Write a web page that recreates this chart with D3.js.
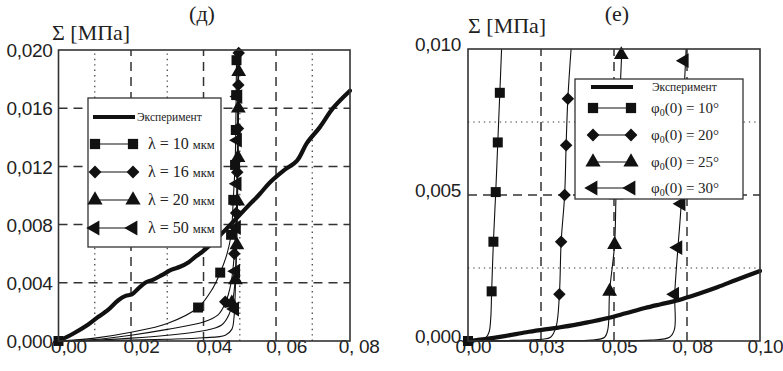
<!DOCTYPE html>
<html><head><meta charset="utf-8">
<script src="https://cdn.jsdelivr.net/npm/d3@7"></script>
<style>body{margin:0;background:#fff}svg{display:block}</style>
</head><body>
<svg id="c" width="783" height="371"></svg>
<script>
// ---------- Data: panel (д) ----------
const leftXTicks = [0, 0.02, 0.04, 0.06, 0.08];
const leftXLabels = ["0,00", "0,02", "0,04", "0, 06", "0, 08"];
const leftYTicks = [0, 0.004, 0.008, 0.012, 0.016, 0.02];
const leftYLabels = ["0,000", "0,004", "0,008", "0,012", "0,016", "0,020"];
const leftXDashed = [0.02, 0.04, 0.06];
const leftXDotted = [0.01, 0.03, 0.05, 0.07];
const leftYDashed = [0.004, 0.008, 0.012, 0.016];
const leftYDotted = [];
const leftSeriesNames = ["λ = 10", "λ = 16", "λ = 20", "λ = 50"];
const leftUnit = "мкм";
const leftExperiment = [[0,0],[0.004,0.0005],[0.008,0.0011],[0.011,0.00167],[0.0135,0.0021],[0.0165,0.0028],[0.0185,0.0031],[0.0202,0.0032],[0.022,0.0036],[0.0239,0.0040],[0.026,0.0042],[0.0285,0.00453],[0.0312,0.0049],[0.0335,0.0051],[0.0358,0.0054],[0.0378,0.0058],[0.0395,0.0061],[0.0423,0.0067],[0.0455,0.0075],[0.0482,0.0082],[0.052,0.0092],[0.0555,0.0101],[0.0583,0.0109],[0.062,0.0117],[0.0658,0.0124],[0.0685,0.0136],[0.0721,0.0147],[0.0757,0.0160],[0.0804,0.0172]];
const leftL10 = [[0,0],[0.01,0.0002],[0.02,0.0006],[0.03,0.0012],[0.0385,0.0023],[0.0425,0.0036],[0.0446,0.0047],[0.0465,0.006],[0.0476,0.0073],[0.0482,0.0097],[0.0487,0.0121],[0.0489,0.0145],[0.049,0.0169],[0.0491,0.0193],[0.0492,0.02]];
const leftL10Markers = [[0,0],[0.0385,0.0023],[0.0446,0.0047],[0.0476,0.0073],[0.0482,0.0097],[0.0487,0.0121],[0.0489,0.0145],[0.049,0.0169],[0.0491,0.0193]];
const leftL16 = [[0,0],[0.01,0.0001],[0.02,0.0004],[0.03,0.0008],[0.04,0.0013],[0.044,0.0018],[0.046,0.0026],[0.0476,0.004],[0.0485,0.006],[0.049,0.0085],[0.0493,0.011],[0.0495,0.014],[0.0496,0.017],[0.0497,0.02]];
const leftL16Markers = [[0.046,0.0027],[0.0485,0.006],[0.049,0.0088],[0.0493,0.0116],[0.0495,0.0146],[0.0496,0.0176],[0.0497,0.0198]];
const leftL20 = [[0,0],[0.01,0.00006],[0.02,0.0002],[0.03,0.0004],[0.04,0.0007],[0.045,0.0011],[0.047,0.0018],[0.0482,0.003],[0.0488,0.0045],[0.0492,0.007],[0.0494,0.01],[0.0496,0.014],[0.0497,0.02]];
const leftL20Markers = [[0.0478,0.0026],[0.0488,0.0042],[0.0492,0.0066],[0.0494,0.0096],[0.0495,0.0126],[0.0496,0.016],[0.0497,0.0185]];
const leftL50 = [[0,0],[0.01,0.00002],[0.02,0.00006],[0.03,0.00012],[0.04,0.00022],[0.046,0.0004],[0.0478,0.0008],[0.0484,0.0016],[0.0487,0.003],[0.049,0.006],[0.0492,0.01],[0.0494,0.015],[0.0495,0.02]];
const leftL50Markers = [[0.0486,0.0022],[0.0489,0.0048],[0.0491,0.0078],[0.0493,0.0108],[0.0494,0.0138],[0.0495,0.0168]];

// ---------- Data: panel (е) ----------
const rightXTicks = [0, 0.025, 0.05, 0.075, 0.1];
const rightXLabels = ["0,00", "0,03", "0,05", "0, 08", "0,10"];
const rightYTicks = [0, 0.005, 0.01];
const rightYLabels = ["0,000", "0,005", "0,010"];
const rightXDashed = [0.025, 0.05, 0.075];
const rightXDotted = [];
const rightYDashed = [0.005];
const rightYDotted = [0.0025, 0.0075];
const rightSeriesAngles = ["10°", "20°", "25°", "30°"];
const rightExperiment = [[0,0],[0.005,0.00006],[0.012,0.00016],[0.02,0.0003],[0.0253,0.00038],[0.031,0.00046],[0.0366,0.00055],[0.042,0.00066],[0.048,0.00079],[0.054,0.00095],[0.0606,0.00113],[0.066,0.00126],[0.072,0.0014],[0.079,0.00162],[0.0856,0.00185],[0.092,0.0021],[0.1,0.0024]];
const rightP10 = [[0,0],[0.003,0.00002],[0.006,0.0001],[0.0072,0.0003],[0.0078,0.0008],[0.0081,0.0017],[0.0087,0.0034],[0.0095,0.0051],[0.0102,0.0068],[0.0109,0.0085],[0.0115,0.01]];
const rightP10Markers = [[0,0],[0.0081,0.0017],[0.0087,0.0034],[0.0095,0.0051],[0.0102,0.0068],[0.0109,0.0085]];
const rightP20 = [[0,0],[0.015,0.00002],[0.0252,0.00006],[0.0283,0.00013],[0.0302,0.0005],[0.0313,0.0016],[0.0319,0.0034],[0.0331,0.005],[0.0336,0.0067],[0.0342,0.0083],[0.0353,0.01]];
const rightP20Markers = [[0.0313,0.0016],[0.0319,0.0034],[0.0331,0.005],[0.0336,0.0067],[0.0342,0.0083]];
const rightP25 = [[0,0],[0.03,0.00001],[0.0422,0.00003],[0.0468,0.00013],[0.0479,0.0004],[0.0485,0.0017],[0.0502,0.0033],[0.0507,0.005],[0.0515,0.0067],[0.052,0.0083],[0.0527,0.01]];
const rightP25Markers = [[0.0485,0.0017],[0.0502,0.0033],[0.0507,0.005],[0.0515,0.0067],[0.052,0.0083],[0.0525,0.0098]];
const rightP30 = [[0,0],[0.04,0.00001],[0.0627,0.00003],[0.069,0.00013],[0.0707,0.0004],[0.0708,0.0016],[0.0719,0.0032],[0.073,0.0047],[0.0735,0.0065],[0.0739,0.0082],[0.0747,0.01]];
const rightP30Markers = [[0.0708,0.0016],[0.0719,0.0032],[0.073,0.0047],[0.0735,0.0065],[0.0741,0.0096]];

// ---------- Drawing ----------
const svg = d3.select("#c");
svg.append("rect").attr("width",783).attr("height",371).attr("fill","#fff");

const markerTypes = [
  {type: d3.symbolSquare, size: 100, rot: 0},
  {type: d3.symbolSquare, size: 78, rot: 45},
  {type: d3.symbolTriangle, size: 95, rot: 0},
  {type: d3.symbolTriangle, size: 95, rot: -90}
];
const serif = "'Liberation Serif','Times New Roman',serif";
const sans = "'Liberation Sans',Arial,sans-serif";

function drawPanel(cfg) {
  const g = svg.append("g");
  const x = d3.scaleLinear().domain(cfg.xDomain).range(cfg.xRange);
  const y = d3.scaleLinear().domain(cfg.yDomain).range(cfg.yRange);
  const [x0, x1] = cfg.xRange, [y0, y1] = cfg.yRange;

  // grid
  cfg.xDashed.forEach(v => g.append("line").attr("x1",x(v)).attr("x2",x(v)).attr("y1",y0).attr("y2",y1)
    .attr("stroke","#333").attr("stroke-width",1.5).attr("stroke-dasharray","9,6"));
  cfg.yDashed.forEach(v => g.append("line").attr("x1",x0).attr("x2",x1).attr("y1",y(v)).attr("y2",y(v))
    .attr("stroke","#333").attr("stroke-width",1.5).attr("stroke-dasharray","9,6"));
  cfg.xDotted.forEach(v => g.append("line").attr("x1",x(v)).attr("x2",x(v)).attr("y1",y0).attr("y2",y1)
    .attr("stroke","#555").attr("stroke-width",1.4).attr("stroke-dasharray","1.4,4"));
  cfg.yDotted.forEach(v => g.append("line").attr("x1",x0).attr("x2",x1).attr("y1",y(v)).attr("y2",y(v))
    .attr("stroke","#777").attr("stroke-width",1.3).attr("stroke-dasharray","1.3,4"));

  // axes (labels only, ticks invisible)
  const xa = d3.axisBottom(x).tickValues(cfg.xTicks).tickSize(0).tickPadding(0)
    .tickFormat((d,i) => cfg.xLabels[i]);
  const gx = g.append("g").attr("transform",`translate(0,${y0})`).call(xa);
  gx.select(".domain").remove();
  gx.selectAll("text").attr("font-family",sans).attr("font-size",19).attr("fill","#222")
    .attr("dx",cfg.xLabelDx).attr("dy",cfg.xLabelDy).attr("letter-spacing",-0.3);
  const ya = d3.axisLeft(y).tickValues(cfg.yTicks).tickSize(0).tickPadding(cfg.yPad)
    .tickFormat((d,i) => cfg.yLabels[i]);
  const gy = g.append("g").attr("transform",`translate(${x0},0)`).call(ya);
  gy.select(".domain").remove();
  gy.selectAll("text").attr("font-family",sans).attr("font-size",19).attr("fill","#222")
    .attr("dy",cfg.yLabelDy).attr("letter-spacing",-0.3);

  // curves
  const line = d3.line().x(d => x(d[0])).y(d => y(d[1])).curve(d3.curveCatmullRom.alpha(0.5));
  const clip = "clip" + cfg.id;
  svg.append("clipPath").attr("id",clip).append("rect")
    .attr("x",x0).attr("y",y1-8).attr("width",x1-x0+2).attr("height",y0-y1+10);
  const cg = g.append("g").attr("clip-path",`url(#${clip})`);
  cfg.series.forEach((s,i) => {
    cg.append("path").attr("d",line(s.pts)).attr("fill","none").attr("stroke","#111").attr("stroke-width",1.1);
  });
  cg.append("path").attr("d",line(cfg.experiment)).attr("fill","none").attr("stroke","#111")
    .attr("stroke-width",4.2).attr("stroke-linejoin","round").attr("stroke-linecap","round");
  cfg.series.forEach((s,i) => {
    const m = markerTypes[i];
    g.selectAll(null).data(s.markers).enter().append("path")
      .attr("d",d3.symbol().type(m.type).size(m.size))
      .attr("transform",d => `translate(${x(d[0])},${y(d[1])}) rotate(${m.rot})`)
      .attr("fill","#111");
  });

  // frame
  g.append("rect").attr("x",x0).attr("y",y1).attr("width",x1-x0).attr("height",y0-y1)
    .attr("fill","none").attr("stroke","#333").attr("stroke-width",1.6);

  // legend
  const L = cfg.legend;
  g.append("rect").attr("x",L.x).attr("y",L.y).attr("width",L.w).attr("height",L.h)
    .attr("fill","#fff").attr("stroke","#333").attr("stroke-width",1.3);
  g.append("line").attr("x1",L.mx1-2).attr("x2",L.mx2+2).attr("y1",L.rows[0]).attr("y2",L.rows[0])
    .attr("stroke","#111").attr("stroke-width",4.2);
  g.append("text").attr("x",L.expX).attr("y",L.rows[0]+4).attr("font-family",serif)
    .attr("font-size",11.5).attr("fill","#222").text("Эксперимент");
  cfg.series.forEach((s,i) => {
    const ry = L.rows[i+1];
    const m = markerTypes[i];
    g.append("line").attr("x1",L.mx1).attr("x2",L.mx2).attr("y1",ry).attr("y2",ry)
      .attr("stroke","#111").attr("stroke-width",1.2);
    [L.mx1, L.mx2].forEach(mx => g.append("path")
      .attr("d",d3.symbol().type(m.type).size(m.size*1.05))
      .attr("transform",`translate(${mx},${ry}) rotate(${m.rot})`).attr("fill","#111"));
    cfg.legendText(g, L.textX, ry + 5, i);
  });

  // titles
  g.append("text").attr("x",cfg.titleX).attr("y",21).attr("text-anchor","middle")
    .attr("font-family",serif).attr("font-size",22).attr("fill","#222").text(cfg.title);
  g.append("text").attr("x",cfg.unitX).attr("y",cfg.unitY)
    .attr("font-family",serif).attr("font-size",22).attr("fill","#222").text("Σ [МПа]");
}

drawPanel({
  id: "L", title: "(д)", titleX: 202, unitX: 52, unitY: 40,
  xDomain: [0, 0.0804], xRange: [58.5, 350], yDomain: [0, 0.02], yRange: [341, 50],
  xTicks: leftXTicks, xLabels: leftXLabels, yTicks: leftYTicks, yLabels: leftYLabels,
  xLabelDx: 10, xLabelDy: 12, yPad: 6, yLabelDy: "0.35em",
  xDashed: leftXDashed, xDotted: leftXDotted, yDashed: leftYDashed, yDotted: leftYDotted,
  experiment: leftExperiment,
  series: [
    {pts: leftL10, markers: leftL10Markers},
    {pts: leftL16, markers: leftL16Markers},
    {pts: leftL20, markers: leftL20Markers},
    {pts: leftL50, markers: leftL50Markers}
  ],
  legend: {x: 88, y: 98, w: 133, h: 149, rows: [117, 144, 172, 200, 228], mx1: 95, mx2: 133, expX: 137, textX: 148},
  legendText: (g, tx, ty, i) => {
    const t = g.append("text").attr("x",tx).attr("y",ty).attr("font-family",serif).attr("fill","#222");
    t.append("tspan").attr("font-size",16).text(leftSeriesNames[i] + " ");
    t.append("tspan").attr("font-size",12.5).text(leftUnit);
  }
});

drawPanel({
  id: "R", title: "(е)", titleX: 617, unitX: 468, unitY: 33,
  xDomain: [0, 0.1], xRange: [468, 760], yDomain: [0, 0.01], yRange: [341, 49],
  xTicks: rightXTicks, xLabels: rightXLabels, yTicks: rightYTicks, yLabels: rightYLabels,
  xLabelDx: 5, xLabelDy: 12, yPad: 7, yLabelDy: "0.1em",
  xDashed: rightXDashed, xDotted: rightXDotted, yDashed: rightYDashed, yDotted: rightYDotted,
  experiment: rightExperiment,
  series: [
    {pts: rightP10, markers: rightP10Markers},
    {pts: rightP20, markers: rightP20Markers},
    {pts: rightP25, markers: rightP25Markers},
    {pts: rightP30, markers: rightP30Markers}
  ],
  legend: {x: 575, y: 79, w: 168, h: 120, rows: [87, 108, 135, 162, 188], mx1: 593, mx2: 631, expX: 652, textX: 651},
  legendText: (g, tx, ty, i) => {
    const t = g.append("text").attr("x",tx).attr("y",ty).attr("font-family",serif)
      .attr("font-size",15).attr("fill","#222");
    t.append("tspan").text("φ");
    t.append("tspan").attr("font-size",10).attr("dy",3).text("0");
    t.append("tspan").attr("dy",-3).text("(0) = " + rightSeriesAngles[i]);
  }
});
</script>
</body></html>
